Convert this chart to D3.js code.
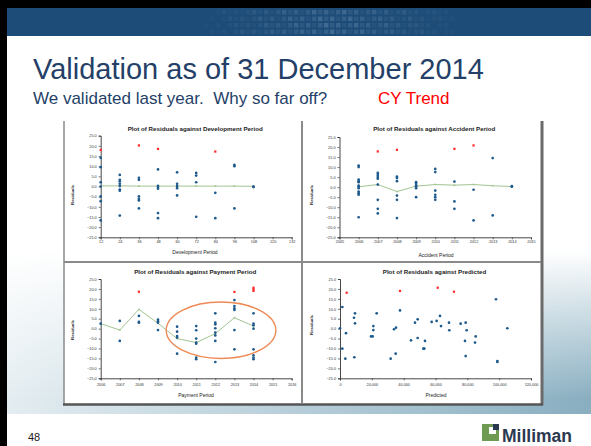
<!DOCTYPE html>
<html><head><meta charset="utf-8">
<script src="https://cdn.jsdelivr.net/npm/d3@7"></script>
<style>html,body{margin:0;padding:0;background:#fff;overflow:hidden}svg{display:block}</style>
</head><body>
<svg id="c" width="591" height="446"></svg>
<script>
// ---------- DATA ----------
const yTicks = [-25,-20,-15,-10,-5,0,5,10,15,20,25];

const devTicks = [12,24,36,48,60,72,84,96,108,120,132];
const devBlue = [[12,14.1],[12,9.5],[12,2.1],[12,0],[12,-4.9],[12,-7.2],[12,-16.7],
  [24,5.7],[24,3.3],[24,2.5],[24,1.3],[24,0.2],[24,-1.5],[24,-2.1],[24,-14.3],
  [36,4.3],[36,3.3],[36,-4.9],[36,-6.1],[36,-6.9],[36,-10.8],
  [48,8.4],[48,0.3],[48,-0.3],[48,-1.1],[48,-13.1],[48,-15.6],
  [60,7.0],[60,1.3],[60,0.2],[60,-0.8],[60,-4.4],
  [72,6.7],[72,5.4],[72,2.1],[72,-14.9],
  [84,-3.1],[84,-15.6],
  [96,10.7],[96,10.0],[96,-10.8],
  [108,0],[108,-0.3]];
const devRed = [[12,18.0],[36,20.2],[48,18.5],[84,17.2]];
const devMean = [[12,0.3],[24,0.3],[36,0.2],[48,0.2],[60,0.2],[72,0.2],[84,0.2],[96,0.2],[108,0.1]];

const accTicks = [2005,2006,2007,2008,2009,2010,2011,2012,2013,2014,2015];
const accBlue = [[2006,10.8],[2006,10.0],[2006,3.8],[2006,3.0],[2006,2.5],[2006,0.8],[2006,0.2],[2006,-0.5],[2006,-2.2],[2006,-3.0],[2006,-3.8],[2006,-15.0],
  [2007,7.1],[2007,6.1],[2007,5.0],[2007,4.2],[2007,1.3],[2007,-6.3],[2007,-10.8],[2007,-13.1],
  [2008,5.3],[2008,4.5],[2008,3.0],[2008,-4.2],[2008,-6.3],[2008,-15.4],
  [2009,2.5],[2009,1.7],[2009,0.8],[2009,0.3],[2009,-0.5],[2009,-5.0],
  [2010,9.1],[2010,7.5],[2010,-1.7],[2010,-3.8],[2010,-5.0],[2010,-6.3],
  [2011,2.8],[2011,-7.1],[2011,-10.8],
  [2012,-1.3],[2012,-16.6],
  [2013,14.5],[2013,-14.1],
  [2014,0.5],[2014,0.2]];
const accRed = [[2007,17.8],[2008,18.6],[2011,19.1],[2012,20.8]];
const accMean = [[2006,0.2],[2007,1.3],[2008,-2.2],[2009,0.5],[2010,1.3],[2011,1.0],[2012,1.3],[2013,0.7],[2014,0.3]];

const payTicks = [2006,2007,2008,2009,2010,2011,2012,2013,2014,2015,2016];
const payBlue = [[2006,2.5],
  [2007,3.9],[2007,-6.2],
  [2008,6.4],[2008,3.4],[2008,3.0],
  [2009,4.5],[2009,3.7],[2009,3.0],[2009,-0.7],
  [2010,1.0],[2010,-1.5],[2010,-3.7],[2010,-4.5],[2010,-12.6],
  [2011,1.3],[2011,-0.8],[2011,-5.0],[2011,-7.0],[2011,-7.6],[2011,-14.6],[2011,-15.4],
  [2012,7.7],[2012,3.0],[2012,2.2],[2012,0.2],[2012,-2.0],[2012,-3.4],[2012,-6.2],[2012,-16.8],
  [2013,14.4],[2013,11.4],[2013,10.2],[2013,9.4],[2013,-0.7],[2013,-10.4],
  [2014,7.7],[2014,2.5],[2014,1.7],[2014,0],[2014,-10.4],[2014,-13.4],[2014,-14.6],[2014,-15.4]];
const payRed = [[2008,18.6],[2013,18.5],[2014,20.6],[2014,19.8],[2014,19.0]];
const payMean = [[2006,2.5],[2007,-0.7],[2008,9.7],[2009,2.7],[2010,-5.0],[2011,-7.0],[2012,-2.5],[2013,5.5],[2014,1.3]];
const payCircle = {cx:2012.3, cy:-0.8, rx:2.87, ry:14.2};

const predTicks = [0,20000,40000,60000,80000,100000,120000];
const predBlue = [[1470,10.9],[0,0.2],[1470,-10.1],[3770,-2.3],[3350,-15.1],[8800,5.5],[9420,7.7],[9420,2.7],[9000,-14.4],
  [19480,-3.9],[20520,-3.9],[20940,1.3],[20940,-0.7],[23040,7.7],[31830,-15.1],[33930,-0.3],[35180,0.5],[34970,-12.6],
  [37700,9.2],[44610,-5.9],[47120,3.0],[48800,4.7],[48800,-4.7],[52360,-10.1],[52980,-10.1],[53400,-6.2],
  [57590,3.4],[60730,3.9],[62830,6.4],[63460,1.3],[68480,3.0],[68690,-0.8],[75810,2.5],[78530,-6.2],[78950,3.0],
  [79580,-0.8],[78950,-13.8],[84820,-7.0],[85240,-3.9],[98010,14.8],[98850,-16.3],[98850,-16.8],[105130,0.2]];
const predRed = [[4190,18.1],[37700,19.0],[61400,20.6],[71600,18.6]];

// ---------- DRAW ----------
const svg = d3.select("#c");
const defs = svg.append("defs");
const hg = defs.append("linearGradient").attr("id","band").attr("x1",0).attr("x2",1);
hg.append("stop").attr("offset",0).attr("stop-color","#e4edf1");
hg.append("stop").attr("offset",1).attr("stop-color","#88aec0");
const vg = defs.append("linearGradient").attr("id","fade").attr("x1",0).attr("x2",0).attr("y1",0).attr("y2",1);
vg.append("stop").attr("offset",0).attr("stop-color","#fff").attr("stop-opacity",0);
vg.append("stop").attr("offset",1).attr("stop-color","#fff").attr("stop-opacity",1);
const mask = defs.append("mask").attr("id","m");
mask.append("rect").attr("x",0).attr("y",250).attr("width",591).attr("height",150).attr("fill","url(#fade)");
mask.append("rect").attr("x",0).attr("y",399).attr("width",591).attr("height",15).attr("fill","#fff");

svg.append("rect").attr("width",591).attr("height",446).attr("fill","#fff");
svg.append("rect").attr("x",7).attr("y",250).attr("width",584).attr("height",164).attr("fill","url(#band)").attr("mask","url(#m)");

// header band
svg.append("rect").attr("x",0).attr("y",0).attr("width",591).attr("height",36).attr("fill","#1d4c78");
const hdr = svg.append("g");
for (let i = 0; i < 60; i++) {
  for (let r = 0; r < 4; r++) {
    const x = 150 + i*6;
    const d = Math.abs(x - 330)/140;
    const h = ((i*7 + r*13) % 5)/5;
    const op = Math.max(0, 0.18*(1-d)) * (0.4 + h);
    if (op > 0.02) hdr.append("rect").attr("x",x).attr("y",10+r*6.5).attr("width",4.5).attr("height",4.5)
      .attr("fill","#c4d8ea").attr("opacity",Math.min(op,0.5));
  }
}
// black borders
svg.append("rect").attr("x",0).attr("y",0).attr("width",591).attr("height",8).attr("fill","#000");
svg.append("rect").attr("x",0).attr("y",0).attr("width",7).attr("height",446).attr("fill","#000");

// titles
svg.append("text").attr("x",33).attr("y",79).attr("font-family","Liberation Sans, Arial, sans-serif")
  .attr("font-size",29).attr("fill","#243f68").text("Validation as of 31 December 2014");
svg.append("text").attr("x",33).attr("y",104).attr("font-family","Liberation Sans, Arial, sans-serif")
  .attr("font-size",17).attr("fill","#243f68").style("white-space","pre").text("We validated last year.  Why so far off?");
svg.append("text").attr("x",378).attr("y",104).attr("font-family","Liberation Sans, Arial, sans-serif")
  .attr("font-size",17).attr("fill","#ff0000").text("CY Trend");

// panel
svg.append("rect").attr("x",64).attr("y",121).attr("width",477).attr("height",283).attr("fill","#fff");
svg.append("line").attr("x1",64).attr("x2",64).attr("y1",121).attr("y2",405).attr("stroke","#8a8a8a").attr("stroke-width",1.5);
svg.append("line").attr("x1",542).attr("x2",542).attr("y1",121).attr("y2",405).attr("stroke","#6a6a6a").attr("stroke-width",3);
svg.append("line").attr("x1",63).attr("x2",543).attr("y1",404.5).attr("y2",404.5).attr("stroke","#555").attr("stroke-width",2.5);
svg.append("line").attr("x1",64).attr("x2",541).attr("y1",262).attr("y2",262).attr("stroke","#8a8a8a").attr("stroke-width",2);
svg.append("line").attr("x1",302).attr("x2",302).attr("y1",121).attr("y2",404).attr("stroke","#8a8a8a").attr("stroke-width",2);

const FONT = "Liberation Sans, Arial, sans-serif";
const fy = d3.format(".1f");

function panel(o) {
  const g = svg.append("g");
  const x = d3.scaleLinear().domain(o.xd).range(o.xr);
  const y = d3.scaleLinear().domain([-25,25]).range(o.yr);
  const ax = g.append("g").attr("transform",`translate(0,${o.yr[0]})`)
    .call(d3.axisBottom(x).tickValues(o.xt).tickFormat(o.xf).tickSize(2).tickPadding(o.xpad));
  const ay = g.append("g").attr("transform",`translate(${o.xr[0]},0)`)
    .call(d3.axisLeft(y).tickValues(yTicks).tickFormat(fy).tickSize(2).tickPadding(2));
  [ax,ay].forEach(a => {
    a.select(".domain").attr("stroke","#333").attr("stroke-width",0.9);
    a.selectAll(".tick line").attr("stroke","#333").attr("stroke-width",0.7);
    a.selectAll("text").attr("font-family",FONT).attr("font-size",3.8).attr("fill","#333");
  });
  g.append("text").attr("x",(o.xr[0]+o.xr[1])/2 - 1).attr("y",o.ty).attr("text-anchor","middle")
    .attr("font-family",FONT).attr("font-size",6.2).attr("font-weight","bold").attr("fill","#222").text(o.title);
  g.append("text").attr("x",o.xtx).attr("y",o.xty).attr("text-anchor","middle")
    .attr("font-family",FONT).attr("font-size",5).attr("fill","#222").text(o.xlab);
  g.append("text").attr("transform",`translate(${o.ytx},${o.yty}) rotate(-90)`).attr("text-anchor","middle")
    .attr("font-family",FONT).attr("font-size",4.2).attr("font-weight","bold").attr("fill","#222").text("Residuals");
  if (o.mean) {
    g.append("path").datum(o.mean).attr("fill","none").attr("stroke","#a3c491").attr("stroke-width",1)
      .attr("d", d3.line().x(d=>x(d[0])).y(d=>y(d[1])));
    g.selectAll(".mn").data(o.mean).join("circle").attr("cx",d=>x(d[0])).attr("cy",d=>y(d[1])).attr("r",1)
      .attr("fill","#a8c896");
  }
  g.selectAll(".b").data(o.blue).join("circle").attr("r",1.35)
    .attr("cx",d=>x(d[0])).attr("cy",d=>y(d[1])).attr("fill","#1f5a8c");
  g.selectAll(".r").data(o.red).join("path").attr("d",d3.symbol().type(d3.symbolSquare).size(5))
    .attr("transform",d=>`translate(${x(d[0])},${y(d[1])})`).attr("fill","#ff2a2a");
  if (o.circle) {
    const c = o.circle;
    g.append("ellipse").attr("cx",x(c.cx)).attr("cy",y(c.cy))
      .attr("rx",x(c.cx+c.rx)-x(c.cx)).attr("ry",y(c.cy-c.ry)-y(c.cy))
      .attr("fill","none").attr("stroke","#ee8a55").attr("stroke-width",1.4);
  }
}

panel({xd:[12,132], xr:[100.7,291.7], yr:[237.3,135.7], xt:devTicks, xf:d3.format("d"), xpad:1.5,
  title:"Plot of Residuals against Development Period", ty:131, xlab:"Development Period", xtx:195, xty:253.5,
  ytx:74, yty:195, blue:devBlue, red:devRed, mean:devMean});
panel({xd:[2005,2015], xr:[339.5,531], yr:[237.3,137], xt:accTicks, xf:d3.format("d"), xpad:1.5,
  title:"Plot of Residuals against Accident Period", ty:131, xlab:"Accident Period", xtx:436, xty:257,
  ytx:313, yty:195, blue:accBlue, red:accRed, mean:accMean});
panel({xd:[2006,2016], xr:[100.7,291.7], yr:[378.3,279], xt:payTicks, xf:d3.format("d"), xpad:3,
  title:"Plot of Residuals against Payment Period", ty:273.5, xlab:"Payment Period", xtx:196, xty:397,
  ytx:74, yty:330, blue:payBlue, red:payRed, mean:payMean, circle:payCircle});
panel({xd:[0,120000], xr:[340,531], yr:[378.3,279], xt:predTicks, xf:d3.format(","), xpad:3,
  title:"Plot of Residuals against Predicted", ty:273.5, xlab:"Predicted", xtx:436, xty:397,
  ytx:313, yty:325, blue:predBlue, red:predRed});

// footer
svg.append("text").attr("x",28).attr("y",441).attr("font-family",FONT).attr("font-size",11).attr("fill","#222").text("48");
const lg = svg.append("g");
lg.append("rect").attr("x",482).attr("y",424).attr("width",17).attr("height",17).attr("fill","#6f9a52");
lg.append("rect").attr("x",489).attr("y",427).attr("width",7).attr("height",7).attr("fill","#fff");
lg.append("rect").attr("x",493).attr("y",424).attr("width",6).attr("height",6).attr("fill","#2b3950");
svg.append("text").attr("x",502).attr("y",442).attr("font-family",FONT).attr("font-size",17.5).attr("font-weight","bold")
  .attr("fill","#2b3950").text("Milliman");
</script>
</body></html>
